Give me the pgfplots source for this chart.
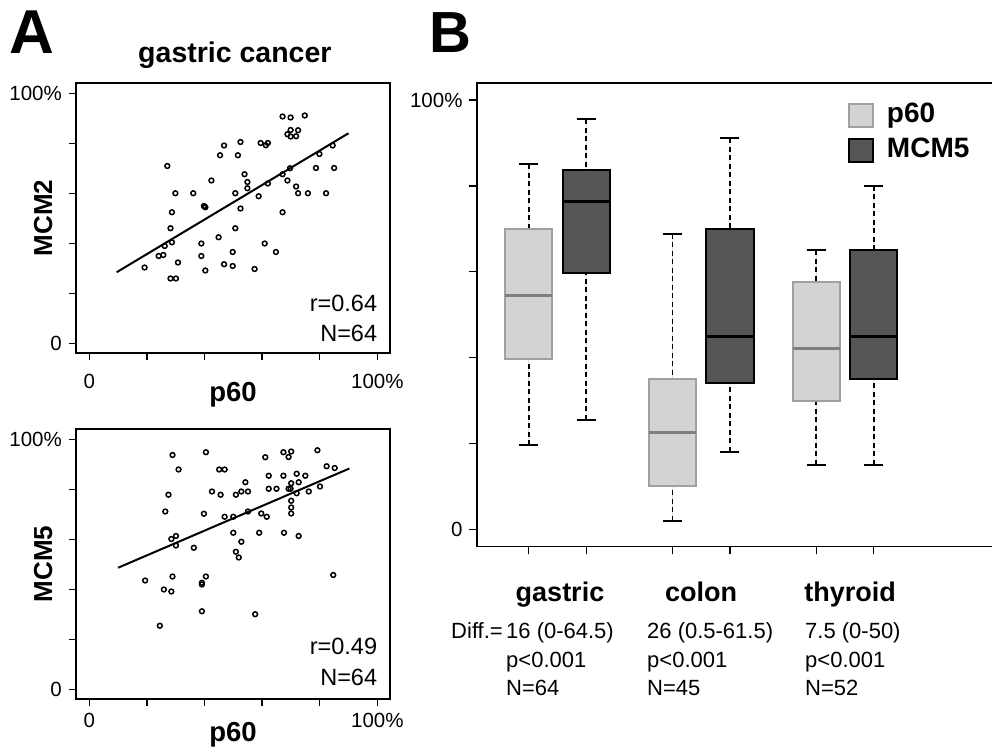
\documentclass[border=0pt]{standalone}
\usepackage{fontspec}
\setmainfont{Liberation Sans}
\usepackage{pgfplots}
\pgfplotsset{compat=1.18}
\usepgfplotslibrary{statistics}
\definecolor{p60fill}{HTML}{D3D3D3}
\definecolor{p60draw}{HTML}{A0A0A0}
\definecolor{p60med}{HTML}{7F7F7F}
\definecolor{mcmfill}{HTML}{555555}
\pgfplotsset{
  scat/.style={
    scale only axis, width=314bp, height=270bp,
    xmin=-4.6, xmax=104.4, ymin=-3.9, ymax=104.1,
    xtick={0,20,40,60,80,100}, ytick={0,20,40,60,80,100},
    xticklabels={0,,,,,100\%}, yticklabels={0,,,,,100\%},
    tick align=outside, tick pos=left, major tick length=7bp,
    tick style={black, line width=1.3bp},
    axis line style={black, line width=1.8bp},
    /pgf/number format/assume math mode=true,
    tick label style={font=\fontsize{20.5bp}{24bp}\selectfont, inner sep=0pt},
    yticklabel style={anchor=east, xshift=-7bp},
    xticklabel style={anchor=north},
  },
  boxplot/draw/lower whisker/.code={%
    \draw[black, line width=1.7bp, dash pattern=on 5bp off 3.5bp]
      (boxplot cs:\pgfplotsboxplotvalue{lower whisker}) -- (boxplot cs:\pgfplotsboxplotvalue{lower quartile});
    \draw[black, line width=2bp]
      (boxplot whisker cs:\pgfplotsboxplotvalue{lower whisker},0) -- (boxplot whisker cs:\pgfplotsboxplotvalue{lower whisker},1);
  },
  boxplot/draw/upper whisker/.code={%
    \draw[black, line width=1.7bp, dash pattern=on 5bp off 3.5bp]
      (boxplot cs:\pgfplotsboxplotvalue{upper whisker}) -- (boxplot cs:\pgfplotsboxplotvalue{upper quartile});
    \draw[black, line width=2bp]
      (boxplot whisker cs:\pgfplotsboxplotvalue{upper whisker},0) -- (boxplot whisker cs:\pgfplotsboxplotvalue{upper whisker},1);
  },
  p60box/.style={forget plot, fill=p60fill, draw=p60draw, line width=2bp,
    boxplot/every box/.style={fill=p60fill, draw=p60draw, line width=2bp},
    boxplot/every median/.style={draw=p60med, line width=3bp}},
  mcmbox/.style={forget plot, fill=mcmfill, draw=black, line width=2bp,
    boxplot/every box/.style={fill=mcmfill, draw=black, line width=2bp},
    boxplot/every median/.style={draw=black, line width=3bp}},
}
\pgfplotstableread{
x y
67.1 90.7
69.9 90.3
74.8 91.1
69.9 85.3
72.5 85.2
68.8 83.6
69.9 82.7
71.8 82.8
52.5 80.5
59.5 80.1
62.0 80.1
61.3 79.2
46.8 79.1
84.5 79.1
45.4 75.2
51.6 75.2
79.9 75.7
27.1 70.9
78.7 70.1
85.0 70.1
69.7 70.0
53.9 67.6
67.1 67.6
42.4 65.1
54.9 64.5
68.8 65.1
62.0 63.9
54.9 62.0
71.8 62.7
29.9 60.0
36.1 60.0
50.7 60.0
72.5 60.0
75.9 60.0
82.2 60.0
58.8 58.8
39.8 54.9
40.3 54.4
40.0 54.7
52.5 53.9
28.7 52.4
67.1 52.4
28.2 46.0
50.7 46.0
44.9 42.4
26.2 38.9
28.7 40.4
38.9 39.9
60.9 39.9
24.1 34.9
25.7 35.3
38.9 34.9
49.8 36.5
64.8 36.5
19.2 30.3
30.8 32.3
46.8 31.6
49.8 30.9
40.3 29.1
57.4 29.7
28.2 25.9
30.1 25.9
}\mcmtwo
\pgfplotstableread{
x y
28.9 93.7
40.5 94.8
61.1 92.8
67.4 94.8
70.1 95.1
69.2 92.9
79.2 95.6
31.0 87.9
45.1 87.9
47.0 87.9
82.4 89.2
85.2 88.5
62.3 85.4
67.4 85.4
72.0 86.2
75.0 85.4
54.2 82.8
70.1 82.4
72.7 82.8
42.6 79.1
45.6 77.8
50.9 77.8
52.8 79.1
55.1 79.1
62.3 80.2
65.0 80.2
69.2 80.2
69.9 80.2
72.0 78.4
76.2 79.1
80.1 81.1
27.5 77.8
70.1 75.4
70.1 72.7
70.1 70.3
26.4 71.1
39.8 70.2
47.0 69.0
50.0 69.0
55.1 71.1
59.7 70.3
61.6 69.0
50.0 62.6
59.0 62.6
67.6 62.6
72.7 61.3
28.5 60.1
30.1 61.3
30.1 57.5
36.3 56.6
52.8 59.0
50.9 55.0
51.9 52.7
19.4 43.5
28.9 45.1
39.1 42.6
39.1 41.9
40.5 45.1
84.7 45.7
25.9 39.9
28.5 39.1
39.1 31.2
57.6 30.0
24.5 25.4
}\mcmfive
\begin{document}
\begin{tikzpicture}
\useasboundingbox (0bp,0bp) rectangle (992bp,756bp);
% ---------- Panel A, top ----------
\begin{axis}[scat, at={(76bp,403bp)}, anchor=south west,
  xticklabel style={yshift=-14bp},
  title={gastric cancer},
  title style={font=\bfseries\fontsize{28.5bp}{30bp}\selectfont, at={(axis description cs:0.506,1.0544)}, anchor=base},
  xlabel={p60}, ylabel={MCM2},
  every axis x label/.style={at={(axis description cs:0.5,-0.180)}, anchor=base, font=\bfseries\fontsize{27.5bp}{30bp}\selectfont},
  every axis y label/.style={at={(axis description cs:-0.0764,0.5)}, anchor=base, rotate=90, font=\bfseries\fontsize{26bp}{30bp}\selectfont},
]
\addplot[only marks, mark=o, mark size=2.4bp, mark options={line width=1.5bp, black}] table {\mcmtwo};
\addplot[black, line width=2bp] coordinates {(9.5,28.4) (90,84)};
\node[anchor=base east, inner sep=0pt, font=\fontsize{23.5bp}{28bp}\selectfont] at (axis cs:100,12.6) {r=0.64};
\node[anchor=base east, inner sep=0pt, font=\fontsize{23.5bp}{28bp}\selectfont] at (axis cs:100,0.6) {N=64};
\end{axis}
% ---------- Panel A, bottom ----------
\begin{axis}[scat, at={(76bp,57bp)}, anchor=south west,
  xticklabel style={yshift=-7bp},
  xlabel={p60}, ylabel={MCM5},
  every axis x label/.style={at={(axis description cs:0.5,-0.158)}, anchor=base, font=\bfseries\fontsize{27.5bp}{30bp}\selectfont},
  every axis y label/.style={at={(axis description cs:-0.0764,0.5)}, anchor=base, rotate=90, font=\bfseries\fontsize{26bp}{30bp}\selectfont},
]
\addplot[only marks, mark=o, mark size=2.4bp, mark options={line width=1.5bp, black}] table {\mcmfive};
\addplot[black, line width=2bp] coordinates {(10.0,48.6) (90.3,88.3)};
\node[anchor=base east, inner sep=0pt, font=\fontsize{23.5bp}{28bp}\selectfont] at (axis cs:100,13.7) {r=0.49};
\node[anchor=base east, inner sep=0pt, font=\fontsize{23.5bp}{28bp}\selectfont] at (axis cs:100,1.4) {N=64};
\end{axis}
% ---------- Panel B ----------
\begin{axis}[at={(476.7bp,209.5bp)}, anchor=south west,
  scale only axis, width=523.3bp, height=463.2bp,
  xmin=-0.904, xmax=8.197, ymin=-4.0, ymax=103.9,
  xtick={0,1,2.5,3.5,5,6}, xticklabels={,,,,,},
  ytick={0,20,40,60,80,100}, yticklabels={0,,,,,100\%},
  tick align=outside, tick pos=left, major tick length=8bp,
  tick style={black, line width=1.3bp},
  axis line style={black, line width=1.8bp},
  tick label style={font=\fontsize{20.5bp}{24bp}\selectfont, inner sep=0pt},
  yticklabel style={anchor=east, xshift=-6bp},
  boxplot/draw direction=y,
  boxplot/box extend=0.823, boxplot/whisker extend=0.33,
  legend style={draw=none, fill=none, at={(axis description cs:0.7095,0.9624)}, anchor=north west,
    font=\bfseries\fontsize{28bp}{30bp}\selectfont, inner sep=0pt, row sep=6bp,
    nodes={text height=20bp, text depth=5bp, inner sep=2bp},
    /tikz/every odd column/.append style={column sep=11bp}},
  legend cell align=left,
  legend image code/.code={\draw[#1, line width=1.8bp] (0bp,-11.5bp) rectangle (24bp,11.5bp);},
]
\addplot[p60box,
  boxplot prepared={draw position=0, lower whisker=19.6, lower quartile=39.6, median=54.5, upper quartile=70.0, upper whisker=85.0}] coordinates {};
\addplot[mcmbox,
  boxplot prepared={draw position=1, lower whisker=25.5, lower quartile=59.6, median=76.3, upper quartile=83.8, upper whisker=95.5}] coordinates {};
\addplot[p60box,
  boxplot prepared={draw position=2.5, lower whisker=2.0, lower quartile=10.0, median=22.5, upper quartile=35.0, upper whisker=68.9}] coordinates {};
\addplot[mcmbox,
  boxplot prepared={draw position=3.5, lower whisker=18.1, lower quartile=34.0, median=45.0, upper quartile=70.0, upper whisker=91.1}] coordinates {};
\addplot[p60box,
  boxplot prepared={draw position=5, lower whisker=15.1, lower quartile=30.0, median=42.1, upper quartile=57.5, upper whisker=65.0}] coordinates {};
\addplot[mcmbox,
  boxplot prepared={draw position=6, lower whisker=15.1, lower quartile=35.0, median=45.0, upper quartile=65.0, upper whisker=80.0}] coordinates {};
\addlegendimage{fill=p60fill, draw=p60draw}
\addlegendentry{p60}
\addlegendimage{fill=mcmfill, draw=black}
\addlegendentry{MCM5}
\end{axis}
% ---------- annotations ----------
\node[font=\bfseries\fontsize{62bp}{64bp}\selectfont, inner sep=0pt] at (31.5bp,723.5bp) {A};
\node[font=\bfseries\fontsize{58bp}{60bp}\selectfont, inner sep=0pt] at (450bp,723bp) {B};
\begin{scope}[every node/.style={inner sep=0pt}]
\node[anchor=base, font=\bfseries\fontsize{27bp}{30bp}\selectfont] at (560bp,154.3bp) {gastric};
\node[anchor=base, font=\bfseries\fontsize{27bp}{30bp}\selectfont] at (701bp,154.3bp) {colon};
\node[anchor=base, font=\bfseries\fontsize{27bp}{30bp}\selectfont] at (850bp,154.3bp) {thyroid};
\node[anchor=base east, font=\fontsize{22bp}{26bp}\selectfont] at (503bp,117.7bp) {Diff.=};
\node[anchor=base west, font=\fontsize{22bp}{26bp}\selectfont] at (506bp,117.7bp) {16 (0-64.5)};
\node[anchor=base west, font=\fontsize{22bp}{26bp}\selectfont] at (506bp,88.7bp) {p<0.001};
\node[anchor=base west, font=\fontsize{22bp}{26bp}\selectfont] at (506bp,60bp) {N=64};
\node[anchor=base west, font=\fontsize{22bp}{26bp}\selectfont] at (647bp,117.7bp) {26 (0.5-61.5)};
\node[anchor=base west, font=\fontsize{22bp}{26bp}\selectfont] at (647bp,88.7bp) {p<0.001};
\node[anchor=base west, font=\fontsize{22bp}{26bp}\selectfont] at (647bp,60bp) {N=45};
\node[anchor=base west, font=\fontsize{22bp}{26bp}\selectfont] at (805bp,117.7bp) {7.5 (0-50)};
\node[anchor=base west, font=\fontsize{22bp}{26bp}\selectfont] at (805bp,88.7bp) {p<0.001};
\node[anchor=base west, font=\fontsize{22bp}{26bp}\selectfont] at (805bp,60bp) {N=52};
\end{scope}
\end{tikzpicture}
\end{document}
